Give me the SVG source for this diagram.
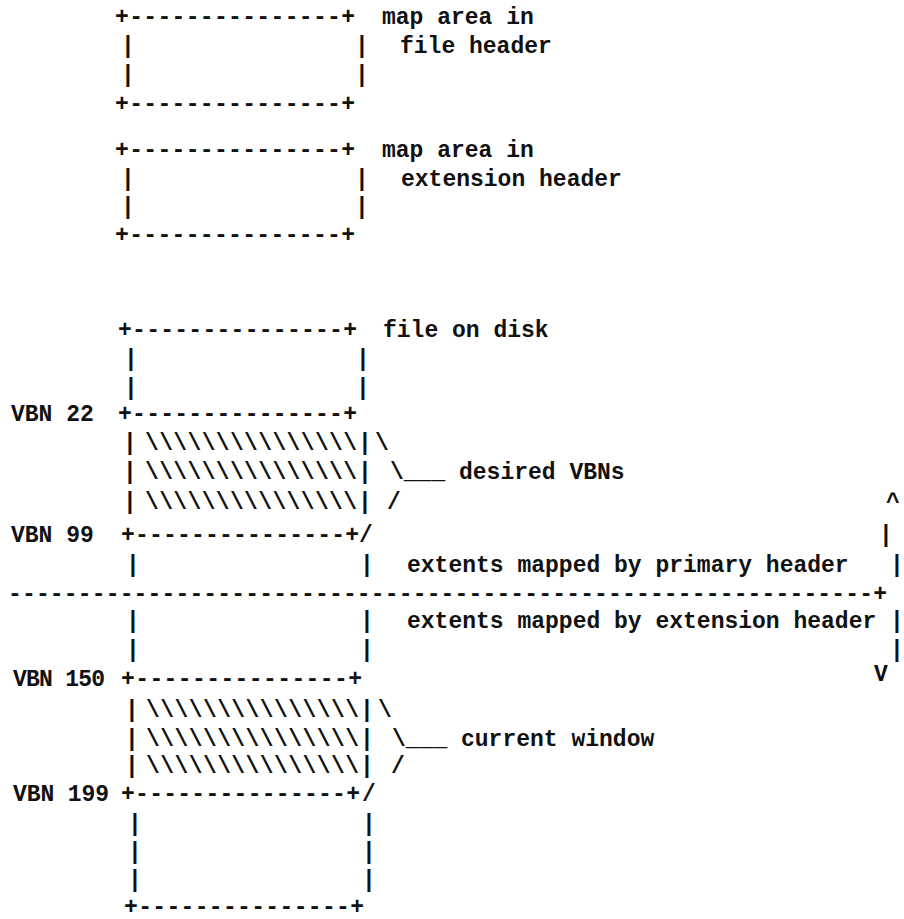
<svg xmlns="http://www.w3.org/2000/svg" width="904" height="919" viewBox="0 0 904 919">
<style>
text{font-family:"Liberation Mono","DejaVu Sans Mono",monospace;font-size:23px;font-weight:bold;fill:#111}
.m{text-anchor:middle}
</style>
<rect width="904" height="919" fill="#fff"/>
<g id="map-file-header">
<text x="115" y="24" textLength="240" lengthAdjust="spacing">+---------------+</text>
<text class="m" x="128" y="53">|</text><text class="m" x="362" y="53">|</text>
<text class="m" x="128" y="82">|</text><text class="m" x="362" y="82">|</text>
<text x="115" y="111" textLength="240" lengthAdjust="spacing">+---------------+</text>
<text x="382" y="24">map area in</text>
<text x="400" y="53">file header</text>
</g>
<g id="map-ext-header">
<text x="115" y="157" textLength="240" lengthAdjust="spacing">+---------------+</text>
<text class="m" x="128" y="186">|</text><text class="m" x="362" y="186">|</text>
<text class="m" x="128" y="214">|</text><text class="m" x="362" y="214">|</text>
<text x="115" y="242" textLength="240" lengthAdjust="spacing">+---------------+</text>
<text x="382" y="157">map area in</text>
<text x="401" y="186">extension header</text>
</g>
<g id="file-on-disk">
<text x="118" y="337" textLength="239" lengthAdjust="spacing">+---------------+</text>
<text x="383" y="337">file on disk</text>
<text class="m" x="131" y="366">|</text><text class="m" x="363" y="366">|</text>
<text class="m" x="131" y="395">|</text><text class="m" x="363" y="395">|</text>
<text x="11" y="421">VBN 22</text>
<text x="118" y="421" textLength="239" lengthAdjust="spacing">+---------------+</text>
<text class="m" x="130" y="450">|</text><text x="145" y="450" textLength="212" lengthAdjust="spacing">\\\\\\\\\\\\\\\</text><text class="m" x="365" y="450">|</text>
<text class="m" x="130" y="479">|</text><text x="145" y="479" textLength="212" lengthAdjust="spacing">\\\\\\\\\\\\\\\</text><text class="m" x="365" y="479">|</text>
<text class="m" x="130" y="509">|</text><text x="145" y="509" textLength="212" lengthAdjust="spacing">\\\\\\\\\\\\\\\</text><text class="m" x="365" y="509">|</text>
<text x="11" y="542">VBN 99</text>
<text x="121" y="542" textLength="238" lengthAdjust="spacing">+---------------+</text>
<text class="m" x="133" y="572">|</text><text class="m" x="367" y="572">|</text>
<text x="407" y="572">extents mapped by primary header</text>
<text x="8" y="601" textLength="879" lengthAdjust="spacing">--------------------------------------------------------------+</text>
<text class="m" x="133" y="628">|</text><text class="m" x="367" y="628">|</text>
<text x="407" y="628">extents mapped by extension header</text>
<text class="m" x="133" y="657">|</text><text class="m" x="367" y="657">|</text>
<text x="13" y="686" textLength="92" lengthAdjust="spacing">VBN 150</text>
<text x="121" y="686" textLength="241" lengthAdjust="spacing">+---------------+</text>
<text class="m" x="132" y="717">|</text><text x="146" y="717" textLength="213" lengthAdjust="spacing">\\\\\\\\\\\\\\\</text><text class="m" x="367" y="717">|</text>
<text class="m" x="132" y="746">|</text><text x="146" y="746" textLength="213" lengthAdjust="spacing">\\\\\\\\\\\\\\\</text><text class="m" x="367" y="746">|</text>
<text class="m" x="132" y="773">|</text><text x="146" y="773" textLength="213" lengthAdjust="spacing">\\\\\\\\\\\\\\\</text><text class="m" x="367" y="773">|</text>
<text x="13" y="801" textLength="96" lengthAdjust="spacing">VBN 199</text>
<text x="121" y="801" textLength="239" lengthAdjust="spacing">+---------------+</text>
<text class="m" x="135" y="831">|</text><text class="m" x="369" y="831">|</text>
<text class="m" x="135" y="859">|</text><text class="m" x="369" y="859">|</text>
<text class="m" x="135" y="887">|</text><text class="m" x="369" y="887">|</text>
<text x="124" y="914" textLength="240" lengthAdjust="spacing">+---------------+</text>
</g>
<g id="connectors">
<text class="m" x="382" y="450">\</text>
<text x="390" y="479">\___ desired VBNs</text>
<text class="m" x="394" y="509">/</text>
<text class="m" x="366" y="542">/</text>
<text class="m" x="385" y="717">\</text>
<text x="392" y="746">\___ current window</text>
<text class="m" x="398" y="773">/</text>
<text class="m" x="369" y="801">/</text>
<text class="m" x="893" y="509">^</text>
<text class="m" x="886" y="542">|</text>
<text class="m" x="897" y="572">|</text>
<text class="m" x="897" y="628">|</text>
<text class="m" x="897" y="657">|</text>
<text class="m" x="881" y="681">V</text>
</g>
</svg>
